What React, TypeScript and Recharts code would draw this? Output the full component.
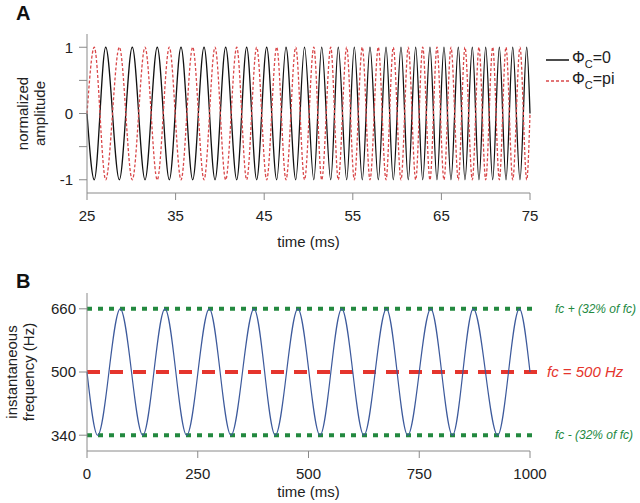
import { LineChart, Line, XAxis, YAxis, ReferenceLine } from "recharts";

// panel A: times (ms) of the extremes of the phi_c = 0 trace
const troughTimes = [
  25.82, 28.65, 31.55, 34.29, 36.93, 39.45, 41.9, 44.15, 46.41, 48.56, 50.6,
  52.51, 54.31, 56.07, 57.88, 59.57, 61.26, 62.89, 64.5, 66.08, 67.66, 69.24,
  70.79, 72.29, 73.87,
];
const peakTimes = [
  27.11, 30.11, 32.93, 35.61, 38.21, 40.65, 43.02, 45.28, 47.46, 49.55, 51.49,
  53.36, 55.17, 56.94, 58.75, 60.44, 62.1, 63.71, 65.29, 66.91, 68.49, 70.0,
  71.54, 73.05, 74.63,
];
const edgeTimesA = [25, 75];
const ampTicks = [-1, -0.5, 0, 0.5, 1];
const timeTicksA = [25, 35, 45, 55, 65, 75];
const legendNames = ["=0", "=pi"];

// panel B: instantaneous frequency extremes (ms)
const freqTroughTimes = [24, 126, 225, 325, 425, 526, 625, 724, 825, 927];
const freqPeakTimes = [75, 176, 276, 377, 476, 575, 676, 776, 872, 976];
const edgeTimesB = [0, 1000];
const fc = 500;
const fLow = 340;
const fHigh = 660;
const freqTicks = [340, 500, 660];
const timeTicksB = [0, 250, 500, 750, 1000];
const guideEnd = 1018;

const dataA = [
  { t: edgeTimesA[0], v: 0 },
  ...troughTimes.map((t) => ({ t, v: -1 })),
  ...peakTimes.map((t) => ({ t, v: 1 })),
  { t: edgeTimesA[1], v: 0 },
]
  .sort((a, b) => a.t - b.t)
  .map((d) => ({ t: d.t, zero: d.v, pi: -d.v }));

const dataB = [
  { t: edgeTimesB[0], f: fc },
  ...freqTroughTimes.map((t) => ({ t, f: fLow })),
  ...freqPeakTimes.map((t) => ({ t, f: fHigh })),
  { t: edgeTimesB[1], f: fc },
].sort((a, b) => a.t - b.t);

const GREEN = "#23893f";
const RED = "#e5352d";
const AXIS = "#8a8a8a";
const TEXT = "#222";

function StackedYLabel({ viewBox, lines, xs }: any) {
  if (!viewBox) return null;
  const cy = viewBox.y + viewBox.height / 2;
  return (
    <g>
      {lines.map((s: string, i: number) => {
        const x = viewBox.x + xs[i];
        return (
          <text
            key={s}
            x={x}
            y={cy}
            transform={`rotate(-90 ${x} ${cy})`}
            textAnchor="middle"
            dominantBaseline="central"
            fontSize={15}
            fill={TEXT}
          >
            {s}
          </text>
        );
      })}
    </g>
  );
}

export default function App() {
  return (
    <div
      style={{
        position: "absolute",
        left: 0,
        top: 0,
        width: 640,
        height: 503,
        background: "#fff",
        fontFamily: "'Liberation Sans', Arial, sans-serif",
      }}
    >
      <div style={{ position: "absolute", left: 0, top: 0 }}>
        <LineChart
          width={640}
          height={250}
          data={dataA}
          margin={{ top: 34, right: 110, bottom: 3, left: 0 }}
        >
          <XAxis
            type="number"
            dataKey="t"
            domain={[25, 75]}
            ticks={timeTicksA}
            stroke={AXIS}
            tick={{ fill: TEXT, fontSize: 15 }}
            tickSize={7}
            tickMargin={10}
            height={54}
            label={{ value: "time (ms)", position: "insideBottom", offset: 0, fill: TEXT, fontSize: 15 }}
          />
          <YAxis
            type="number"
            domain={[-1.2, 1.2]}
            ticks={ampTicks}
            tickFormatter={(v: number) => (Number.isInteger(v) ? String(v) : "")}
            stroke={AXIS}
            tick={{ fill: TEXT, fontSize: 15 }}
            tickSize={8}
            tickMargin={6}
            width={87}
            label={<StackedYLabel lines={["normalized", "amplitude"]} xs={[22, 39]} />}
          />
          <Line
            type="monotone"
            dataKey="zero"
            stroke="#111"
            strokeWidth={1.3}
            dot={false}
            isAnimationActive={false}
          />
          <Line
            type="monotone"
            dataKey="pi"
            stroke="#d9484a"
            strokeWidth={1.3}
            strokeDasharray="3 2"
            dot={false}
            isAnimationActive={false}
          />
        </LineChart>
      </div>

      <div style={{ position: "absolute", left: 0, top: 250 }}>
        <LineChart
          width={640}
          height={253}
          data={dataB}
          margin={{ top: 43, right: 110, bottom: 6, left: 0 }}
        >
          <XAxis
            type="number"
            dataKey="t"
            domain={[0, 1000]}
            ticks={timeTicksB}
            stroke={AXIS}
            tick={{ fill: TEXT, fontSize: 15 }}
            tickSize={7}
            tickMargin={10}
            height={46}
            label={{ value: "time (ms)", position: "insideBottom", offset: 0, fill: TEXT, fontSize: 15 }}
          />
          <YAxis
            type="number"
            domain={[300, 700]}
            ticks={freqTicks}
            stroke={AXIS}
            tick={{ fill: TEXT, fontSize: 15 }}
            tickSize={8}
            tickMargin={3}
            width={87}
            label={<StackedYLabel lines={["instantaneous", "frequency (Hz)"]} xs={[11, 28]} />}
          />
          <ReferenceLine
            segment={[{ x: 0, y: fHigh }, { x: guideEnd, y: fHigh }]}
            stroke={GREEN}
            strokeWidth={4}
            strokeDasharray="5 6"
            ifOverflow="visible"
            label={{ value: "fc + (32% of fc)", position: "right", offset: 17, fill: GREEN, fontSize: 12, fontStyle: "italic" }}
          />
          <ReferenceLine
            segment={[{ x: 0, y: fc }, { x: guideEnd, y: fc }]}
            stroke={RED}
            strokeWidth={4}
            strokeDasharray="13 10"
            ifOverflow="visible"
            label={{ value: "fc = 500 Hz", position: "right", offset: 9, fill: RED, fontSize: 15, fontStyle: "italic" }}
          />
          <ReferenceLine
            segment={[{ x: 0, y: fLow }, { x: guideEnd, y: fLow }]}
            stroke={GREEN}
            strokeWidth={4}
            strokeDasharray="5 6"
            ifOverflow="visible"
            label={{ value: "fc - (32% of fc)", position: "right", offset: 17, fill: GREEN, fontSize: 12, fontStyle: "italic" }}
          />
          <Line
            type="monotone"
            dataKey="f"
            stroke="#3d5a9c"
            strokeWidth={1.2}
            dot={false}
            isAnimationActive={false}
          />
        </LineChart>
      </div>

      <svg
        width={640}
        height={503}
        style={{ position: "absolute", left: 0, top: 0, pointerEvents: "none" }}
      >
        <text x={16} y={20} fontSize={20} fontWeight="bold" fill="#111">A</text>
        <text x={16} y={288} fontSize={20} fontWeight="bold" fill="#111">B</text>
        <line x1={546} y1={60} x2={569} y2={60} stroke="#111" strokeWidth={1.5} />
        <text x={572} y={63} fontSize={16} fill={TEXT}>
          Φ<tspan fontSize={11} dy={5}>C</tspan>
          <tspan fontSize={16} dy={-5}>{legendNames[0]}</tspan>
        </text>
        <line x1={546} y1={81} x2={569} y2={81} stroke="#d9484a" strokeWidth={1.5} strokeDasharray="3 2" />
        <text x={572} y={84} fontSize={16} fill={TEXT}>
          Φ<tspan fontSize={11} dy={5}>C</tspan>
          <tspan fontSize={16} dy={-5}>{legendNames[1]}</tspan>
        </text>
      </svg>
    </div>
  );
}
